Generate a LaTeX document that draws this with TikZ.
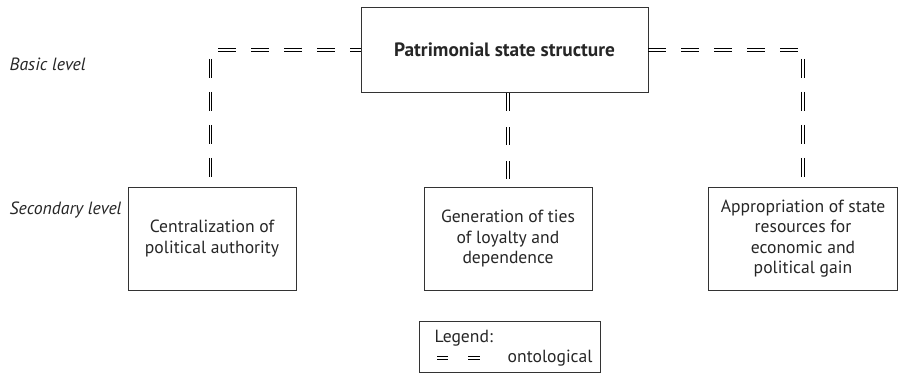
\documentclass[tikz,border=0pt]{standalone}
\usepackage{fontspec}
\setmainfont{PT Sans}
\begin{document}
\begin{tikzpicture}[x=0.75pt,y=-0.75pt,
  box/.style={draw=black!80,line width=0.7pt,align=center,inner sep=0pt,
    font=\fontsize{13.2}{15.4}\selectfont,text=black!85},
  rail/.style={draw=black,line width=0.75pt},
  ontoh/.style={rail,dash pattern=on 13.5pt off 11.25pt},
  ontov/.style={rail,dash pattern=on 14.25pt off 10.5pt},
  ontom/.style={rail,dash pattern=on 13.5pt off 12pt},
  up/.style={transform canvas={yshift=0.85pt}},
  dn/.style={transform canvas={yshift=-0.85pt}},
  lf/.style={transform canvas={xshift=-0.85pt}},
  rt/.style={transform canvas={xshift=0.85pt}},
  lvl/.style={anchor=west,font=\fontsize{13.3}{15}\selectfont\itshape,text=black!85}]
\useasboundingbox (0,0) rectangle (899,374);

% top level
\node[box,minimum width=287*0.75pt,minimum height=85*0.75pt,font=\fontsize{14.5}{16}\selectfont\bfseries]
  (top) at (504.5,49.5) {Patrimonial state structure};

% secondary level
\node[box,minimum width=168*0.75pt,minimum height=103*0.75pt] (cent) at (212,238.5)
  {Centralization of\\political authority};
\node[box,minimum width=168*0.75pt,minimum height=103*0.75pt] (gen) at (508,238.5)
  {Generation of ties\\of loyalty and\\dependence};
\node[box,minimum width=189*0.75pt,minimum height=103*0.75pt] (appr) at (803,238.5)
  {Appropriation of state\\resources for\\economic and\\political gain};

% level labels
\node[lvl] (basic) at (5,64) {Basic level};
\node[lvl] (second) at (5,210) {Secondary level};

% ontological links, each drawn as two parallel dashed rails
\coordinate (lh) at (218,50);
\coordinate (lv) at (210.5,59);
\coordinate (rh) at (803,50);
\coordinate (rv) at (803,59);
\foreach \s in {up,dn}{
  \draw[ontoh,\s] (lh) -- (top.west |- lh);
  \draw[ontoh,\s] (top.east |- rh) -- (rh);
}
\foreach \s in {lf,rt}{
  \draw[ontov,\s] (lv) -- (cent.north -| lv);
  \draw[ontov,\s] (rv) -- (appr.north -| rv);
  \draw[ontom,\s] ([yshift=-0.75pt]top.south -| gen.north) -- (gen.north);
}

% legend
\node[draw=black!80,line width=0.7pt,minimum width=181*0.75pt,minimum height=51*0.75pt,inner sep=0pt]
  (legend) at (509.5,346.5) {};
\node[anchor=base west,font=\fontsize{13.2}{15}\selectfont,text=black!85] (legtitle) at (430,342) {Legend:};
\node[anchor=base west,font=\fontsize{13.2}{15}\selectfont,text=black!85] (legtext) at (503,362) {ontological};
\coordinate (ls) at (437,358);
\coordinate (le) at (481,358);
\foreach \s in {up,dn}{
  \draw[rail,\s,dash pattern=on 8.5pt off 15pt] (ls) -- (le);
}
\end{tikzpicture}
\end{document}
